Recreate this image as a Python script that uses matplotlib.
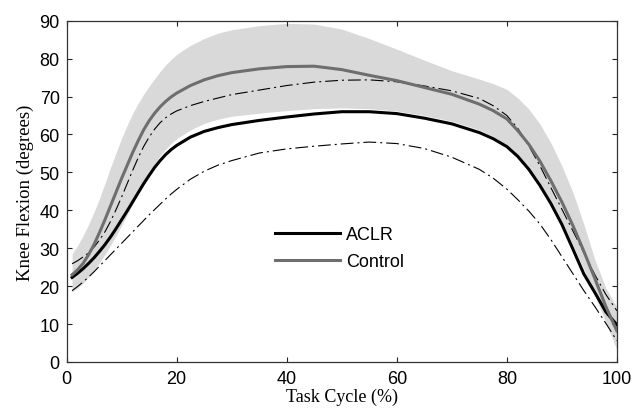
import matplotlib
matplotlib.use("Agg")
import matplotlib.pyplot as plt

# Task cycle (%) sample points
cycle = [1, 2, 3, 4, 5, 6, 7, 8, 9, 10, 11, 12, 13, 14, 15, 16, 17, 18, 19, 20,
         22.5, 25, 27.5, 30, 35, 40, 45, 50, 55, 60, 65, 70, 75, 77.5, 80,
         82, 84, 86, 88, 90, 92, 94, 96, 98, 100]

# ACLR mean knee flexion (deg)
aclr_mean = [22.3, 23.4, 24.6, 26.0, 27.5, 29.2, 31.0, 33.0, 35.2, 37.5,
             39.8, 42.2, 44.6, 47.0, 49.2, 51.3, 53.1, 54.7, 56.0, 57.1,
             59.3, 60.8, 61.8, 62.6, 63.7, 64.6, 65.4, 66.0, 66.0, 65.5, 64.3, 62.8, 60.5, 58.9, 56.8,
             54.2, 50.8, 46.6, 41.8, 36.3, 29.8, 23.2, 18.3, 13.2, 9.8]
# ACLR +/- 1 SD (dash-dot)
aclr_upper = [25.9, 26.7, 27.7, 28.8, 30.3, 32.2, 34.4, 37.1, 40.2, 43.5,
              47.0, 50.5, 53.8, 56.8, 59.3, 61.4, 63.1, 64.4, 65.4, 66.2,
              67.6, 68.7, 69.6, 70.5, 71.7, 72.9, 73.8, 74.3, 74.4, 73.9, 72.8, 71.5, 69.5, 67.6, 65.0,
              61.6, 57.0, 51.8, 46.0, 40.3, 34.6, 28.8, 23.0, 17.8, 13.5]
aclr_lower = [18.8, 19.9, 21.1, 22.4, 23.8, 25.3, 26.8, 28.3, 29.8, 31.3,
              32.8, 34.3, 35.8, 37.3, 38.8, 40.2, 41.6, 43.0, 44.3, 45.5,
              48.2, 50.3, 51.9, 53.1, 55.1, 56.2, 56.9, 57.5, 58.0, 57.6, 56.3, 54.0, 50.8, 48.5, 45.6,
              42.8, 39.8, 36.4, 32.3, 27.8, 23.3, 18.8, 14.6, 10.2, 5.6]

# Control mean knee flexion (deg)
control_mean = [23.0, 24.3, 26.0, 28.3, 31.0, 34.2, 37.6, 41.2, 44.8, 48.4,
                51.8, 55.2, 58.3, 61.2, 63.6, 65.6, 67.3, 68.7, 69.9, 70.9,
                72.9, 74.4, 75.5, 76.3, 77.3, 77.9, 78.0, 77.1, 75.6, 74.2, 72.4, 70.6, 68.0, 66.3, 64.1,
                61.0, 57.4, 53.0, 47.8, 42.2, 36.0, 29.2, 22.0, 14.6, 8.2]
# Control +/- 1 SD (shaded band)
control_upper = [28.5, 30.7, 33.3, 36.3, 39.6, 43.2, 47.2, 51.3, 55.2, 59.0,
                 62.4, 65.5, 68.2, 70.6, 72.7, 74.7, 76.6, 78.3, 79.8, 81.1,
                 83.5, 85.3, 86.7, 87.6, 88.7, 89.3, 89.1, 87.8, 85.3, 82.5, 79.6, 76.8, 74.6, 73.4, 71.9,
                 69.6, 66.7, 62.8, 57.8, 51.7, 44.8, 36.3, 27.0, 19.5, 14.5]
control_lower = [18.5, 19.5, 20.8, 22.4, 24.2, 26.2, 28.4, 30.8, 33.3, 36.0,
                 38.8, 41.7, 44.6, 47.4, 50.0, 52.3, 54.4, 56.1, 57.6, 58.9,
                 61.2, 62.9, 64.0, 64.8, 65.6, 66.3, 66.8, 67.0, 66.8, 66.2, 65.0, 63.5, 61.2, 59.5, 57.2,
                 54.7, 51.4, 47.3, 42.5, 37.0, 30.8, 24.5, 17.5, 10.5, 3.2]

x_ticks = [0, 20, 40, 60, 80, 100]
y_ticks = [0, 10, 20, 30, 40, 50, 60, 70, 80, 90]

sans = ["Liberation Sans", "DejaVu Sans"]
serif = ["Liberation Serif", "DejaVu Serif"]

fig = plt.figure(figsize=(6.34, 4.14), dpi=100)
ax = fig.add_axes([0.105, 0.1232, 0.868, 0.8244])

ax.fill_between(cycle, control_lower, control_upper, color="#d9d9d9", linewidth=0, zorder=1)
dd = (11.5, 3.6, 1.8, 3.6)
ax.plot(cycle, aclr_upper, color="black", lw=0.8, dashes=dd, zorder=2)
ax.plot(cycle, aclr_lower, color="black", lw=0.8, dashes=dd, zorder=2)
ax.plot(cycle, aclr_mean, color="black", lw=2.2, label="ACLR", zorder=3,
        solid_joinstyle="round")
ax.plot(cycle, control_mean, color="#6e6e6e", lw=2.2, label="Control", zorder=3,
        solid_joinstyle="round")

ax.set_xlim(0, 100)
ax.set_ylim(0, 90)
ax.set_xticks(x_ticks)
ax.set_yticks(y_ticks)
ax.tick_params(direction="in", length=3.5, width=0.8, top=True, right=True,
               labelsize=13, pad=5, colors="#222222")
ax.tick_params(axis="x", pad=6)
for lab in ax.get_xticklabels() + ax.get_yticklabels():
    lab.set_family(sans)
    lab.set_color("black")
for sp in ax.spines.values():
    sp.set_linewidth(0.9)
    sp.set_color("#333333")

ax.set_xlabel("Task Cycle (%)", family=serif, fontsize=13, labelpad=0)
ax.set_ylabel("Knee Flexion (degrees)", family=serif, fontsize=13.5, labelpad=4)

leg = ax.legend(loc="upper left", bbox_to_anchor=(0.379, 0.397), frameon=False,
                prop={"family": sans, "size": 13}, handlelength=3.6,
                handletextpad=0.35, borderpad=0, borderaxespad=0, labelspacing=0.55)

fig.savefig("out.png", dpi=100)
